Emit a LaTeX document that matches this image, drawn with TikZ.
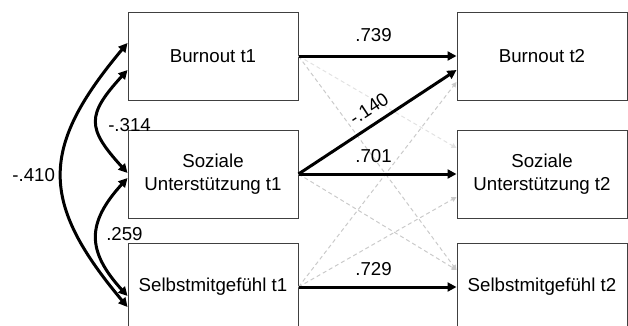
\documentclass[tikz,border=0pt]{standalone}
\usepackage{fontspec}
\setmainfont{Liberation Sans}
\usetikzlibrary{arrows.meta,calc}
\definecolor{boxline}{HTML}{404040}
\definecolor{greyA}{HTML}{CACACA}
\definecolor{greyB}{HTML}{E2E2E2}
\begin{document}
\begin{tikzpicture}[x=1pt,y=-1pt,
  every node/.style={font=\fontsize{18.7}{22.5}\selectfont},
  varbox/.style={draw=boxline,line width=1pt,minimum width=170pt,minimum height=88pt,align=center,inner sep=0pt},
  path/.style={line width=3pt,-{Triangle[length=9pt,width=9pt]}},
  cov/.style={line width=3pt,{Triangle[length=9pt,width=9pt]}-{Triangle[length=9pt,width=9pt]}},
  ns/.style={draw=greyA,line width=1pt,dash pattern=on 4pt off 3pt,-{Triangle[length=5pt,width=5pt]}},
  nsl/.style={ns,draw=greyB},
  lab/.style={inner sep=0pt}]
\useasboundingbox (0,0) rectangle (628,325);
\node[varbox] (b1) at (213,56) {Burnout t1};
\node[varbox] (s1) at (213,174) {Soziale\\Unterstützung t1};
\node[varbox] (m1) at (213,287) {Selbstmitgefühl t1};
\node[varbox] (b2) at (542,56) {Burnout t2};
\node[varbox] (s2) at (542,174) {Soziale\\Unterstützung t2};
\node[varbox] (m2) at (542,287) {Selbstmitgefühl t2};
% non-significant paths
\draw[nsl] (b1.east) -- ([yshift=26pt]s2.west);
\draw[ns] (b1.east) -- ([yshift=17pt]m2.west);
\draw[ns] (s1.east) -- ([yshift=17pt]m2.west);
\draw[ns] (m1.east) -- ([yshift=-26pt]b2.west);
\draw[ns] (m1.east) -- ([yshift=-23pt]s2.west);
% label of cross path (white background hides grey line)
\path (s1.east) -- ([yshift=-14pt]b2.west) node[midway,sloped,above=9pt,lab,fill=white] {-.140};
% significant paths
\draw[path] (b1.east) -- node[midway,xshift=-4pt,above=13pt,lab] {.739} (b2.west);
\draw[path] (s1.east) -- ([yshift=-14pt]b2.west);
\draw[path] (s1.east) -- node[midway,xshift=-4pt,above=10pt,lab] {.701} (s2.west);
\draw[path] (m1.east) -- node[midway,xshift=-4pt,above=10pt,lab] {.729} (m2.west);
% covariances
\draw[cov] ([yshift=-14pt]b1.west) .. controls +(-41,45) and +(-41,-45) .. node[midway,anchor=west,xshift=10pt,yshift=-4pt,lab] {-.314} ([yshift=1pt]s1.west);
\draw[cov] ([yshift=-4pt]s1.west) .. controls +(-41,45) and +(-41,-45) .. node[midway,anchor=west,xshift=8pt,yshift=3pt,lab] {.259} ([yshift=-9pt]m1.west);
\draw[cov] ([yshift=13pt]b1.west) .. controls +(-88,105) and +(-88,-105) .. node[midway,anchor=east,xshift=-5pt,lab] {-.410} ([yshift=-20pt]m1.west);
\end{tikzpicture}
\end{document}
